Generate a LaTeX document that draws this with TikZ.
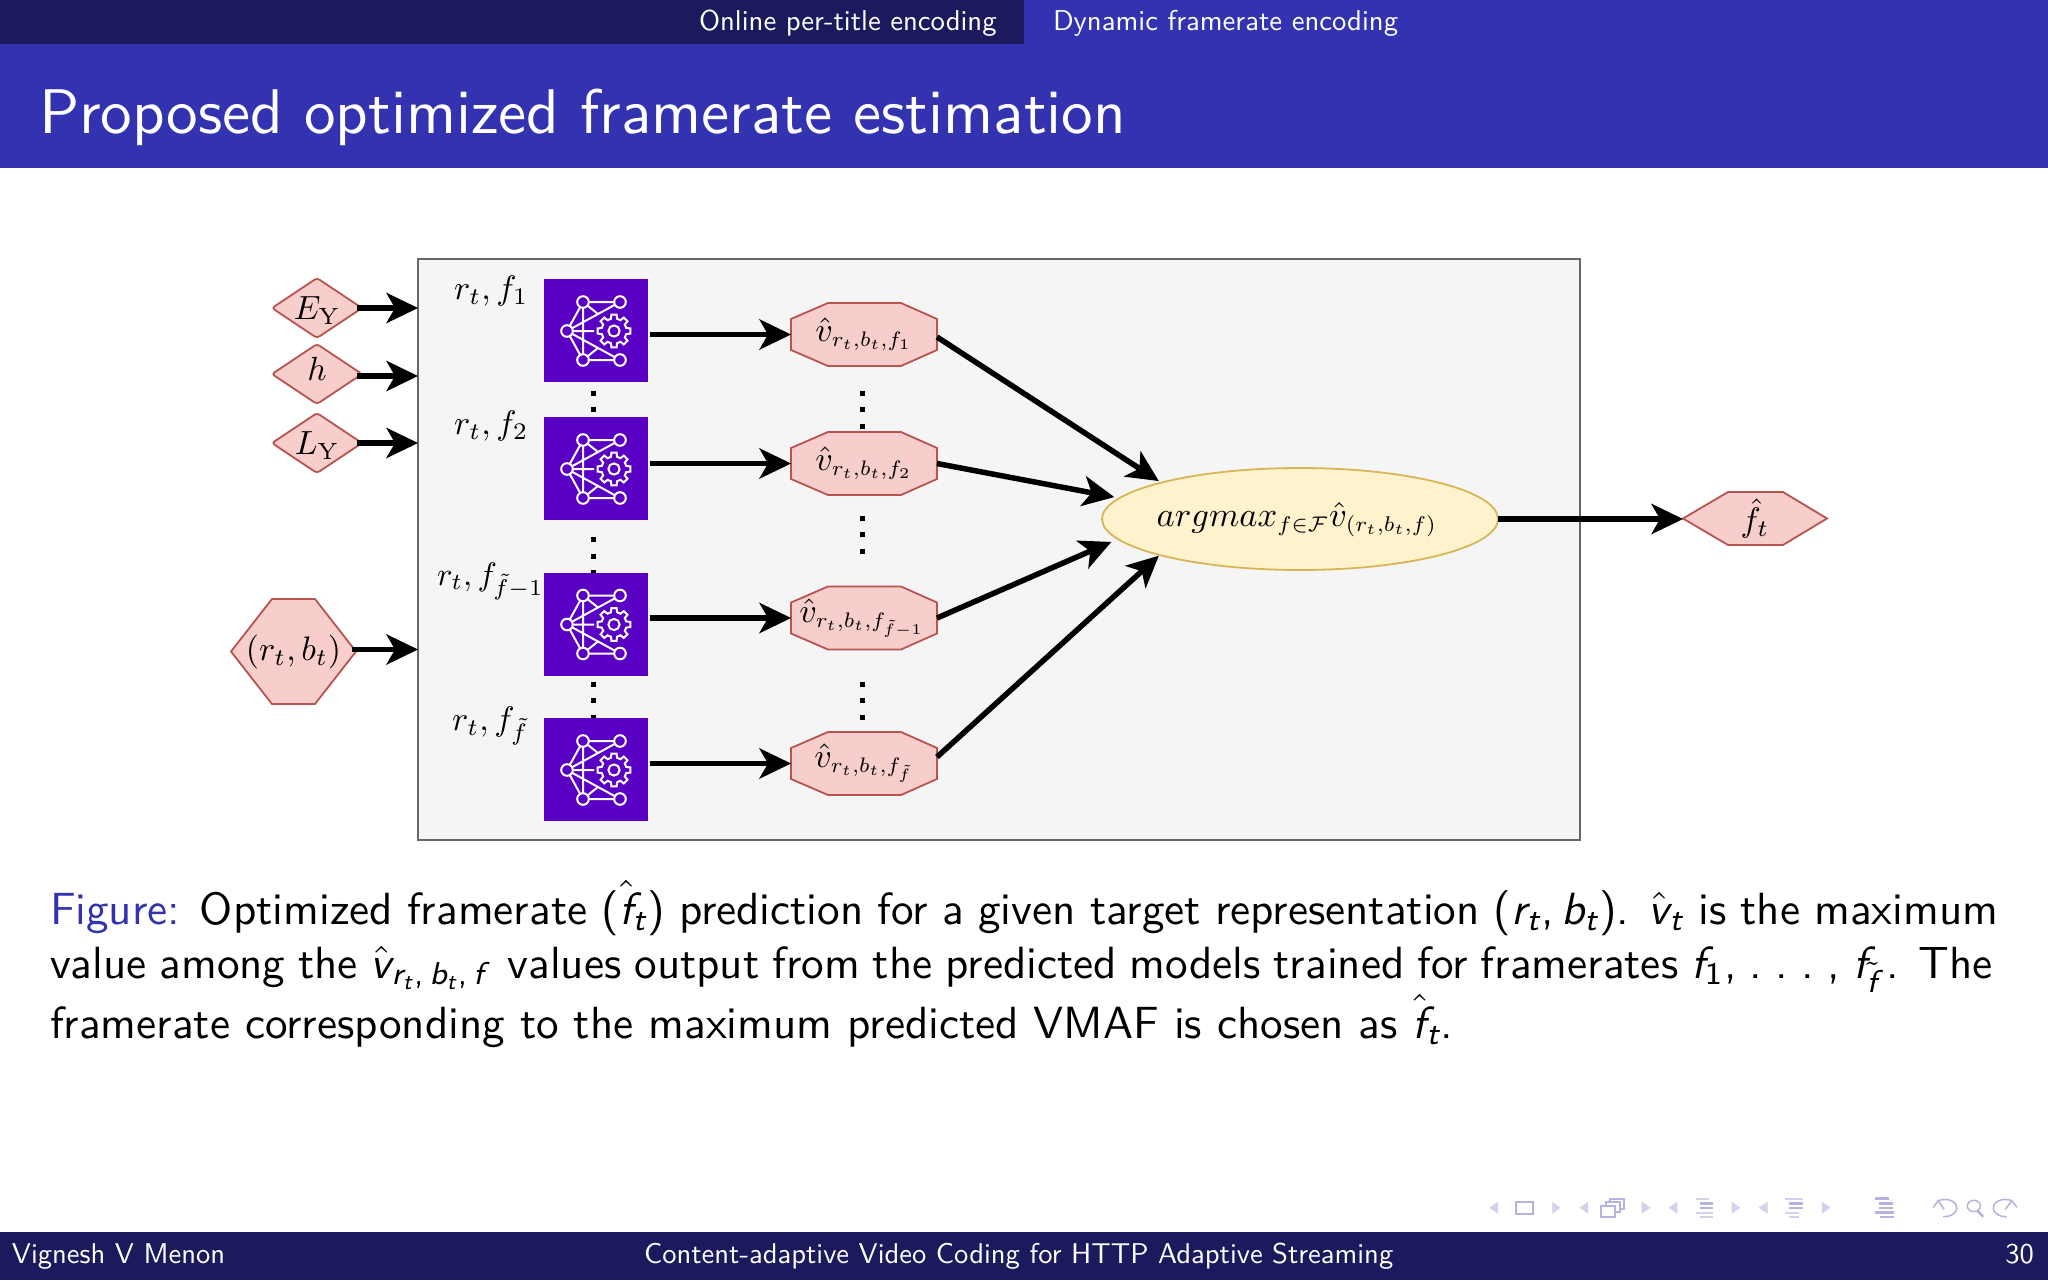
\documentclass[tikz,border=0pt]{standalone}
\usepackage{amsmath}
\usepackage{graphicx}
\usepackage{fontspec}
\usetikzlibrary{arrows.meta,shapes.geometric,calc}
\definecolor{navy}{HTML}{1A1A5C}
\definecolor{bandblue}{HTML}{3333B2}
\definecolor{pinkfill}{HTML}{F8CECC}
\definecolor{pinkline}{HTML}{B85450}
\definecolor{yelfill}{HTML}{FFF2CC}
\definecolor{yelline}{HTML}{D6B656}
\definecolor{boxfill}{HTML}{F5F5F5}
\definecolor{boxline}{HTML}{666666}
\definecolor{nnfill}{HTML}{5A00C4}
\definecolor{navA}{HTML}{D2D2EC}
\definecolor{navB}{HTML}{B4B4DE}
\newcommand{\mlab}[2]{\scalebox{#1}{$#2$}}
\newcommand{\stxt}[2]{\scalebox{#1}{\sffamily #2}}
\newcommand{\sm}[1]{\text{\sffamily\itshape #1}}
\newcommand{\sn}[1]{\text{\sffamily #1}}
\newcommand{\tsub}[1]{\scalebox{0.88}{$\scriptstyle #1$}}
\tikzset{
  plain/.style={inner sep=0pt,outer sep=0pt},
  pinkshape/.style={draw=pinkline,fill=pinkfill,line width=1.8pt,line join=miter},
  flow/.style={draw=black,line width=5.5pt,-{Stealth[length=32pt,width=31pt,inset=9pt,line width=0pt]}},
  dotline/.style={draw=black,line width=5pt,dash pattern=on 5pt off 11.5pt},
  nnbox/.style={plain,fill=nnfill,minimum width=104pt,minimum height=103pt},
  icon/.style={draw=white,line width=2pt},
  navtri/.style={fill=navA,draw=none},
  navline/.style={draw=navB,line width=1.5pt},
}
\newcommand{\nnicon}[1]{%
  \begin{scope}[shift={(#1.north west)},icon]
    \draw (39,23) -- (76,23) (39,23) -- (23,52) -- (39,81) -- (76,81)
          (23,52) -- (76,23) (23,52) -- (76,81) (39,23) -- (39,81)
          (39,23) -- (54,35) (39,81) -- (54,69) (23,52) -- (50,52);
    \foreach \p in {(39,23),(76,23),(23,52),(39,81),(76,81)}
      \draw[fill=nnfill] \p circle (5.8);
    \begin{scope}[shift={(70,52)}]
      \draw[fill=nnfill] (-14:12.6) \foreach \a in {0,45,...,315} { -- (\a-14:12.6) -- (\a-9:16.6) -- (\a+9:16.6) -- (\a+14:12.6) } -- cycle;
      \draw (0,0) circle (5.6);
    \end{scope}
  \end{scope}}
\begin{document}
\begin{tikzpicture}[x=1pt,y=-1pt]
\useasboundingbox (0,0) rectangle (2048,1280);
\fill[white] (0,0) rectangle (2048,1280);
% slide furniture
\fill[navy] (0,0) rectangle (1024,44);
\fill[bandblue] (1024,0) rectangle (2048,44);
\fill[bandblue] (0,44) rectangle (2048,168);
\fill[navy] (0,1232) rectangle (2048,1280);
\node[plain,anchor=base west,text=white] (sec1) at (699,30) {\stxt{2.87}{Online per-title encoding}};
\node[plain,anchor=base west,text=white] (sec2) at (1053,30) {\stxt{2.87}{Dynamic framerate encoding}};
\node[plain,anchor=base west,text=white] (title) at (39,133) {\stxt{6.31}{Proposed optimized framerate estimation}};
\node[plain,anchor=base west,text=white] (foot1) at (12,1263) {\stxt{2.86}{Vignesh V Menon}};
\node[plain,anchor=base west,text=white] (foot2) at (644,1263) {\stxt{2.86}{Content-adaptive Video Coding for HTTP Adaptive Streaming}};
\node[plain,anchor=base east,text=white] (foot3) at (2034,1263) {\stxt{2.86}{30}};
% container
\node[plain,draw=boxline,fill=boxfill,line width=1.8pt,minimum width=1162pt,minimum height=581pt] (box) at (999,549.5) {};
% dotted columns
\coordinate (dl1) at (593,390.5);
\coordinate (dl2) at (593,537);
\coordinate (dl3) at (593,681.5);
\coordinate (dr1) at (862,390.5);
\coordinate (dr1e) at (862,432);
\coordinate (dr2) at (862,515.5);
\coordinate (dr2e) at (862,553.5);
\coordinate (dr3) at (862,681.5);
\coordinate (dr3e) at (862,719.5);
% input shapes
\draw[pinkshape,rounded corners=3pt] (272,308) -- (317,278) -- (362,308) -- (317,338) -- cycle;
\draw[pinkshape,rounded corners=3pt] (272,374) -- (317,344) -- (362,374) -- (317,404) -- cycle;
\draw[pinkshape,rounded corners=3pt] (272,443) -- (317,413) -- (362,443) -- (317,473) -- cycle;
\draw[pinkshape] (231,651.5) -- (272,599) -- (315,599) -- (356,651.5) -- (315,704) -- (272,704) -- cycle;
\node[plain,minimum width=90pt,minimum height=60pt] (ey) at (317,308) {};
\node[plain,minimum width=90pt,minimum height=60pt] (hh) at (317,374) {};
\node[plain,minimum width=90pt,minimum height=60pt] (ly) at (317,443) {};
\node[plain,anchor=base] (eyt) at (317,319.5) {\mlab{3.35}{E_{\mathrm{Y}}}};
\node[plain,anchor=base] (hht) at (317,380) {\mlab{3.35}{h}};
\node[plain,anchor=base] (lyt) at (317,454.5) {\mlab{3.35}{L_{\mathrm{Y}}}};
\node[plain,minimum width=125pt,minimum height=105pt] (rb) at (293.5,651.5) {\mlab{3.4}{(r_t,b_t)}};
\path[flow] ([xshift=-5pt]ey.east) -- (ey.east -| box.west);
\path[flow] ([xshift=-5pt,yshift=-2pt]hh.east) -- ([yshift=-2pt]hh.east -| box.west);
\path[flow] ([xshift=-5pt]ly.east) -- (ly.east -| box.west);
\path[flow] ([xshift=-4pt,yshift=2pt]rb.east) -- ([yshift=2pt]rb.east -| box.west);
% model blocks
\node[nnbox] (nn1) at (596,330.5) {};
\node[nnbox] (nn2) at (596,468.5) {};
\node[nnbox] (nn3) at (596,624) {};
\node[nnbox] (nn4) at (596,769.5) {};
\path[dotline] (dl1) -- (nn2.north -| dl1);
\path[dotline] (dl2) -- (nn3.north -| dl2);
\path[dotline] (dl3) -- (nn4.north -| dl3);
\nnicon{nn1}\nnicon{nn2}\nnicon{nn3}\nnicon{nn4}
\node[plain,anchor=base west] (l1) at (454,299) {\mlab{3.4}{r_t,f_1}};
\node[plain,anchor=base west] (l2) at (454,434) {\mlab{3.4}{r_t,f_2}};
\node[plain,anchor=base west] (l3) at (437,585) {\mlab{3.25}{r_t,f_{\tilde f-1}}};
\node[plain,anchor=base west] (l4) at (452,730) {\mlab{3.4}{r_t,f_{\tilde f}}};
% prediction octagons
\path[dotline] (dr1) -- (dr1e);
\path[dotline] (dr2) -- (dr2e);
\path[dotline] (dr3) -- (dr3e);
\foreach \cy in {334.5,463.5,618,763.5}
  \draw[pinkshape] (791,\cy-15.5) -- (828,\cy-31.5) -- (901,\cy-31.5) -- (937,\cy-15.5) -- (937,\cy+15.5) -- (901,\cy+31.5) -- (828,\cy+31.5) -- (791,\cy+15.5) -- cycle;
\node[plain,minimum width=146pt,minimum height=63pt] (o1) at (864,334.5) {\mlab{3.4}{\hat v_{\tsub{r_t,b_t,f_1}}}};
\node[plain,minimum width=146pt,minimum height=63pt] (o2) at (864,463.5) {\mlab{3.4}{\hat v_{\tsub{r_t,b_t,f_2}}}};
\node[plain,minimum width=146pt,minimum height=63pt] (o3) at (862,618) {\mlab{3.4}{\hat v_{\tsub{r_t,b_t,f_{\tilde f-1}}}}};
\node[plain,minimum width=146pt,minimum height=63pt] (o4) at (864,763.5) {\mlab{3.4}{\hat v_{\tsub{r_t,b_t,f_{\tilde f}}}}};
\foreach \n/\o in {nn1/o1,nn2/o2,nn4/o4}
  \path[flow] ([xshift=2pt]\n.east |- \o.west) -- (\o.west);
\path[flow] ([xshift=2pt]nn3.east |- o3.west) -- ([xshift=2pt]o3.west);
% decision
\node[ellipse,plain,draw=yelline,fill=yelfill,line width=1.8pt,minimum width=396pt,minimum height=102pt] (arg) at (1300,519) {};
\node[plain] (argt) at (1297,520) {\mlab{3.45}{argmax_{\tsub{f\in\mathcal{F}}}\hat v_{\tsub{(r_t,b_t,f)}}}};
\path[flow] ([yshift=-2.5pt]o1.east) -- ([xshift=-4pt,yshift=1.2pt]arg.165);
\path[flow] (o2.east) -- ([xshift=-7pt]arg.173.3);
\path[flow] ([xshift=2pt]o3.east) -- ([xshift=-10pt,yshift=-1pt]arg.187);
\path[flow] ([yshift=6.5pt]o4.east) -- ([xshift=-4pt]arg.195);
% output
\draw[pinkshape] (1683,518.5) -- (1728,492) -- (1783,492) -- (1827,518.5) -- (1783,545) -- (1728,545) -- cycle;
\node[plain,minimum width=144pt,minimum height=53pt] (ft) at (1755,518.5) {\mlab{3.4}{\hat f_t}};
\path[flow] (arg.east) -- (arg.east -| ft.west);
% caption
\node[plain,anchor=base west] (cap1) at (50,924) {\scalebox{4.51}{\hbox to 432pt{\sffamily\textcolor{bandblue}{Figure:} Optimized framerate ($\hat{\sm{f}}_{\sm{t}}$) prediction for a given target representation ($\sm{r}_{\sm{t}}\sn{,}\,\sm{b}_{\sm{t}}$). $\hat{\sm{v}}_{\sm{t}}$ is the maximum}}};
\node[plain,anchor=base west] (cap2) at (50,978) {\scalebox{4.51}{\hbox to 430.8pt{\sffamily value among the $\hat{\sm{v}}_{\sm{r}_{\sm{t}}\sn{,}\,\sm{b}_{\sm{t}}\sn{,}\,\sm{f}}$\kern.2em\ values output from the predicted models trained for framerates $\sm{f}_{\sn{1}}$,~.\kern.3em.\kern.3em.\kern.3em,~$\sm{f}_{\tilde{\sm{f}}}\,$. The}}};
\node[plain,anchor=base west] (cap3) at (50,1038) {\scalebox{4.51}{\sffamily framerate corresponding to the maximum predicted VMAF is chosen as $\hat{\sm{f}}_{\sm{t}}$.}};
% navigation symbols
\begin{scope}[shift={(1440,1180)},x=0.3877pt,y=-0.3333pt]
  \foreach \xa/\xb in {150/127,382/360,612/590,845/822} \fill[navtri] (\xa,65) -- (\xb,83) -- (\xa,101) -- cycle;
  \foreach \xa/\xb in {290/310,520/543,752/775,985/1007} \fill[navtri] (\xa,65) -- (\xb,83) -- (\xa,101) -- cycle;
  \draw[navline,line width=2pt] (197,67) rectangle (240,102);
  \draw[navline,line width=2pt,fill=white] (438,56) rectangle (475,88);
  \draw[navline,line width=2pt,fill=white] (427,65) rectangle (464,97);
  \draw[navline,line width=2pt,fill=white] (415,77) rectangle (452,110);
  \foreach \ox/\wa/\wb/\wc in {660/34/45/45, 890/47/47/36} {
    \draw[navline,line width=2pt,draw=navA] (\ox,56) -- ++(\wa,0);
    \draw[navline,line width=2.4pt] (\ox+10,70) -- ++(\wb-10,0) (\ox+10,84) -- ++(\wb-10,0);
    \draw[navline,line width=2pt,draw=navA] (\ox,98) -- ++(\wc,0) (\ox+10,111) -- ++(\wc-10,0);
  }
  \draw[navline,line width=2.4pt] (1123,56) -- ++(36,0) (1132,70) -- ++(36,0) (1132,84) -- ++(36,0) (1123,98) -- ++(47,0) (1135,111) -- ++(35,0);
  \draw[navline] (1285,62) .. controls (1315,50) and (1335,70) .. (1333,85) .. controls (1332,100) and (1315,112) .. (1298,110);
  \draw[navline] (1272,82) -- (1285,62) -- (1300,88);
  \draw[navline] (1377,78) circle [x radius=17,y radius=17];
  \draw[navline,line width=2.4pt] (1386,92) -- (1401,110);
  \draw[navline] (1475,62) .. controls (1445,50) and (1425,70) .. (1427,85) .. controls (1428,100) and (1445,112) .. (1462,110);
  \draw[navline] (1488,82) -- (1475,62) -- (1458,88);
\end{scope}
\end{tikzpicture}
\end{document}
